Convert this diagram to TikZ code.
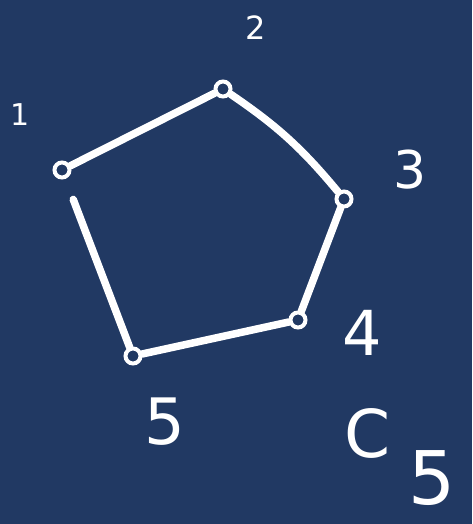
\documentclass[tikz,border=0pt]{standalone}
\usepackage{fontspec}
\setmainfont{DejaVu Sans}
\definecolor{bgblue}{RGB}{33,57,99}
\begin{document}
\begin{tikzpicture}[x=1pt,y=-1pt,
  vert/.style={circle,draw=white,line width=4pt,fill=bgblue,minimum size=15pt,inner sep=0pt},
  edge/.style={white,line width=7.5pt,line cap=round},
  lbl/.style={text=white,font=\fontsize{40}{40}\selectfont,inner sep=0pt}]
\fill[bgblue] (0,0) rectangle (472,524);
\useasboundingbox (0,0) rectangle (472,524);
\node[vert] (v1) at (62,170) {};
\node[vert] (v2) at (223,89) {};
\node[vert] (v3) at (344,199) {};
\node[vert] (v4) at (298,320) {};
\node[vert] (v5) at (133,356) {};
\draw[edge] (v1) -- (v2);
\draw[edge] (v2) to[bend left=8] (v3);
\draw[edge] (v3) -- (v4);
\draw[edge] (v4) -- (v5);
\draw[edge,shorten <=22pt] (v1) -- (v5);
\node[lbl,font=\fontsize{30}{30}\selectfont] (l1) at (20,115) {1};
\node[lbl,font=\fontsize{32}{32}\selectfont] (l2) at (256,28) {2};
\node[lbl,font=\fontsize{52}{52}\selectfont] (l3) at (410,170) {3};
\node[lbl,font=\fontsize{62}{62}\selectfont] (l4) at (362,333) {4};
\node[lbl,font=\fontsize{64}{64}\selectfont] (l5) at (165,422) {5};
\node[lbl,font=\fontsize{66}{66}\selectfont] (c) at (368,433) {C};
\node[lbl,font=\fontsize{74}{74}\selectfont] (s5) at (432,478) {5};
\end{tikzpicture}
\end{document}
